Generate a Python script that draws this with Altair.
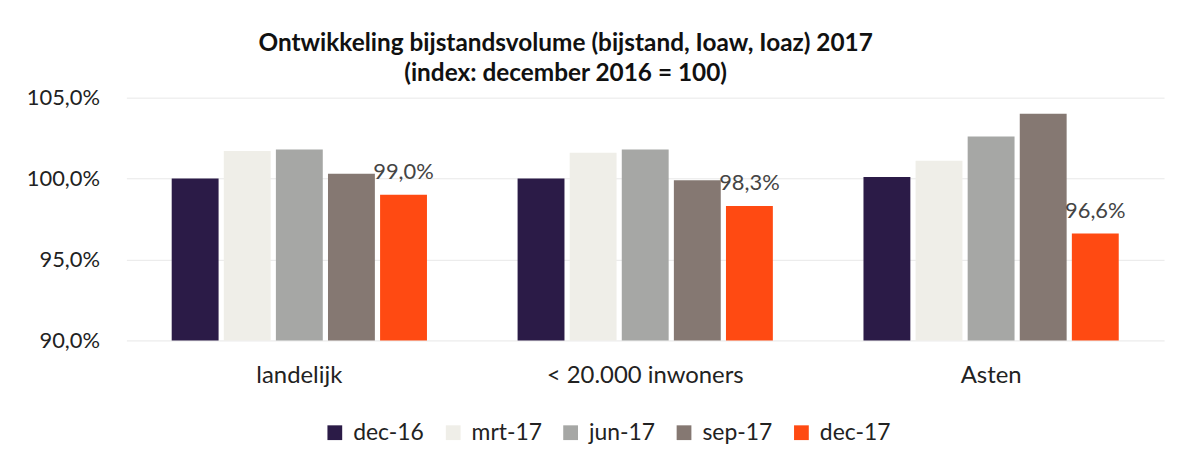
import altair as alt
import pandas as pd

categories = ["landelijk", "< 20.000 inwoners", "Asten"]
periods = ["dec-16", "mrt-17", "jun-17", "sep-17", "dec-17"]
colors = ["#2b1b47", "#efeee8", "#a6a7a5", "#857872", "#ff4a12"]

landelijk = [100.0, 101.7, 101.8, 100.3, 99.0]
klein = [100.0, 101.6, 101.8, 99.9, 98.3]
asten = [100.1, 101.1, 102.6, 104.0, 96.6]

rows = []
for cat, vals in zip(categories, [landelijk, klein, asten]):
    for p, v in zip(periods, vals):
        rows.append({"cat": cat, "period": p, "value": v})
df = pd.DataFrame(rows)

FONT = "Lato"

base = alt.Chart(df).encode(
    x=alt.X("cat:N", sort=categories, title=None,
            scale=alt.Scale(paddingInner=0.262, paddingOuter=0.131),
            axis=alt.Axis(labelAngle=0, labelFontSize=24, labelColor="#222222",
                          labelFont=FONT, ticks=False, domain=False, grid=False,
                          labelPadding=23, labelLimit=600)),
    xOffset=alt.XOffset("period:N", sort=periods,
                        scale=alt.Scale(paddingInner=0.1)),
)

yaxis = alt.Axis(values=[90, 95, 100, 105], labelFontSize=22,
                 labelFont=FONT, labelColor="#222222",
                 labelExpr="replace(format(datum.value, '.1f'), '.', ',') + '%'",
                 ticks=False, domain=False, labelPadding=27,
                 gridColor="#e8e8e8", gridWidth=1)

bars = base.mark_bar(clip=True).encode(
    y=alt.Y("value:Q", title=None,
            scale=alt.Scale(domain=[90, 105], nice=False, zero=False),
            axis=yaxis),
    color=alt.Color("period:N", sort=periods,
                    scale=alt.Scale(domain=periods, range=colors),
                    legend=alt.Legend(title=None, orient="none", direction="horizontal",
                                      legendX=198, legendY=325, symbolType="square",
                                      symbolSize=220, symbolStrokeWidth=0,
                                      labelFontSize=23, labelFont=FONT,
                                      labelColor="#222222", columnPadding=17,
                                      symbolOffset=0, labelOffset=7)),
)

labels = base.transform_filter(alt.datum.period == "dec-17").transform_calculate(
    label="replace(format(datum.value, '.1f'), '.', ',') + '%'"
).mark_text(baseline="middle", dy=-23, fontSize=22, font=FONT, color="#444444").encode(
    y=alt.Y("value:Q", title=None, axis=yaxis),
    text="label:N",
)

chart = alt.layer(bars, labels).properties(
    width=1043, height=244,
    background="white",
    title=alt.TitleParams(
        ["Ontwikkeling bijstandsvolume (bijstand, Ioaw, Ioaz) 2017",
         "(index: december 2016 = 100)"],
        anchor="middle", frame="group", dx=-80, offset=0,
        fontSize=24.5, font=FONT, fontWeight="bold", color="#111111", lineHeight=30),
    autosize=alt.AutoSizeParams(type="none"),
    padding={"left": 119, "top": 89, "right": 10, "bottom": 110},
).configure_view(strokeWidth=0)

chart.save("out.html", embed_options={"renderer": "svg", "actions": False})
